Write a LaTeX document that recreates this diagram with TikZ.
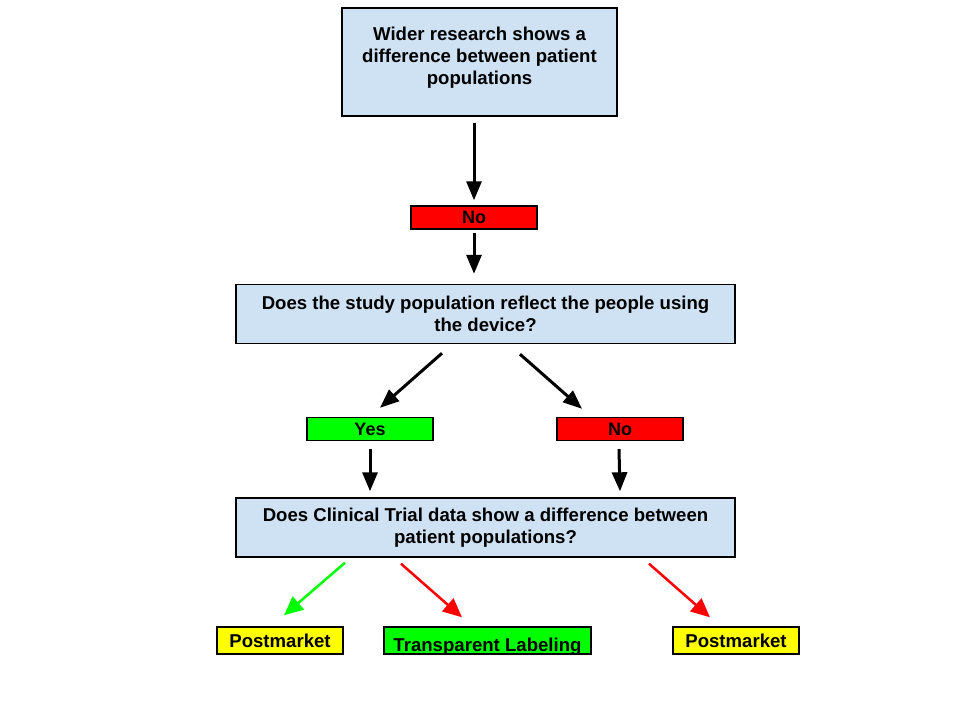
\documentclass[tikz,border=0pt]{standalone}
\usepackage{fontspec}
\setmainfont{Liberation Sans}
\usetikzlibrary{arrows.meta}
\definecolor{paleblue}{HTML}{CFE2F3}
\definecolor{pure red}{HTML}{FF0000}
\definecolor{pure green}{HTML}{00FF00}
\definecolor{pure yellow}{HTML}{FFFF00}
\tikzset{
  box/.style={draw=black, line width=1.4pt, align=center, inner sep=0pt,
    font=\bfseries\fontsize{18.6}{22}\selectfont},
  question/.style={box, fill=paleblue, minimum width=499pt, minimum height=59pt},
  tag/.style={box, minimum width=126pt, minimum height=23pt,
    font=\bfseries\fontsize{18}{20}\selectfont},
  outcome/.style={box, minimum height=27pt},
  arr/.style={line width=3pt, -{Triangle[length=19pt,width=15pt]}},
  thinarr/.style={line width=2.5pt, -{Triangle[length=19pt,width=17pt]}}
}
\begin{document}
\begin{tikzpicture}[x=1pt, y=-1pt]
    \useasboundingbox (0,0) rectangle (960,720);

    \node[box, fill=paleblue, minimum width=275pt, minimum height=108pt] (research) at (479.5,62)
      {\raisebox{4pt}[\height][\depth]{Wider research shows a}\\
       \raisebox{4pt}[\height][\depth]{difference between patient}\\
       \raisebox{4pt}[\height][\depth]{populations}};
    \node[tag, fill=pure red] (no1) at (474,217.5) {No};
    \node[question] (study) at (485.5,314) {Does the study population reflect the people using\\the device?};
    \node[tag, fill=pure green] (yes) at (370,429) {Yes};
    \node[tag, fill=pure red] (no2) at (620,429) {No};
    \node[question] (trial) at (485.5,527.5) {Does Clinical Trial data show a difference between\\patient populations?};
    \node[outcome, fill=pure yellow, minimum width=126pt] (post1) at (280,640.5) {Postmarket};
    \node[outcome, fill=pure green, minimum width=207pt] (label) at (487.5,640.5)
      {\raisebox{-6pt}[\height][\depth]{Transparent Labeling}};
    \node[outcome, fill=pure yellow, minimum width=126pt] (post2) at (736,640.5) {Postmarket};

    \draw[arr, shorten <=6pt, shorten >=5pt] (research.south -| no1.north) -- (no1.north);
    \draw[arr, shorten <=3pt, shorten >=10pt] (no1.south) -- (no1.south |- study.north);
    \draw[arr] ([xshift=-43.5pt,yshift=-9pt]study.south) -- ([xshift=10pt,yshift=9pt]yes.north);
    \draw[arr] ([xshift=34.5pt,yshift=-10pt]study.south) -- ([xshift=-38pt,yshift=8pt]no2.north);
    \draw[arr, shorten <=8pt, shorten >=6pt] (yes.south) -- (yes.south |- trial.north);
    \draw[arr] ([xshift=-1pt,yshift=-8pt]no2.south) -- ([yshift=6pt]no2.south |- trial.north);

    \draw[thinarr, pure green] ([xshift=-140.5pt,yshift=-5pt]trial.south) -- ([xshift=4pt,yshift=11pt]post1.north);
    \draw[thinarr, pure red] ([xshift=-84.5pt,yshift=-6pt]trial.south) -- ([xshift=-25.5pt,yshift=9pt]label.north);
    \draw[thinarr, pure red] ([xshift=163.5pt,yshift=-6pt]trial.south) -- ([xshift=-26pt,yshift=9pt]post2.north);

  \end{tikzpicture}
\end{document}
